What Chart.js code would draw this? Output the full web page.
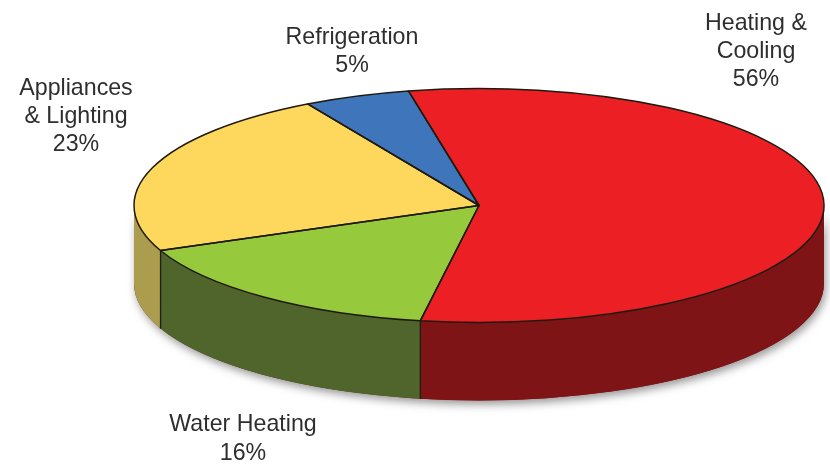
<!DOCTYPE html>
<html><head><meta charset="utf-8">
<style>html,body{margin:0;padding:0;background:#fff}#w{width:830px;height:464px}</style>
<script src="https://cdn.jsdelivr.net/npm/chart.js@4"></script></head>
<body><div id="w"><canvas id="c" width="830" height="464"></canvas></div>
<script>
const categories = ['Heating & Cooling','Water Heating','Appliances & Lighting','Refrigeration'];
const shares = [56,16,23,5];
const topColors = ['#ec2024','#97c93d','#fdd85d','#3f75bb'];
const wallColors = ['#7f1416','#4f652c','#ab9c4e','#2a4f80'];
const labelLines = [['Heating &','Cooling','56%'],['Water Heating','16%'],['Appliances','& Lighting','23%'],['Refrigeration','5%']];
const labelSpots = [[756,24,28],[243,425,29],[76,89,28],[352,38,28]];
const startRotation = -11.8;
const tilt = {cx:479,cy:205.5,rx:345,ry:117,depth:78};

const extrude = {
  id:'extrude',
  beforeDatasetsDraw(chart){
    const ctx=chart.ctx, els=chart.getDatasetMeta(0).data, t=tilt, e0=els[0];
    ctx.save();
    // soft cast shadow under the drum
    ctx.save();
    ctx.shadowColor='rgba(70,70,70,0.55)';ctx.shadowBlur=9;ctx.shadowOffsetX=2;ctx.shadowOffsetY=4;
    ctx.fillStyle='#7f1416';
    ctx.beginPath();
    ctx.ellipse(t.cx,t.cy+t.depth,t.rx,t.ry,0,0,Math.PI);
    ctx.ellipse(t.cx,t.cy,t.rx,t.ry,0,Math.PI,0,true);
    ctx.closePath();ctx.fill();
    ctx.restore();
    // walls of the front-facing part of each slice
    els.forEach((el,i)=>{
      const p=el.getProps(['startAngle','endAngle'],true);
      for(const k of [-2,0,2]){
        const a=Math.max(p.startAngle,k*Math.PI), b=Math.min(p.endAngle,(k+1)*Math.PI);
        if(b<=a)continue;
        ctx.beginPath();
        ctx.ellipse(t.cx,t.cy+t.depth,t.rx,t.ry,0,a,b);
        ctx.ellipse(t.cx,t.cy,t.rx,t.ry,0,b,a,true);
        ctx.closePath();
        ctx.fillStyle=wallColors[i];ctx.fill();
        ctx.strokeStyle='#1d1d12';ctx.lineWidth=1.2;
        // seams
        ctx.beginPath();
        [a,b].forEach(v=>{
          if(Math.abs(v%Math.PI)<1e-6)return;
          const x=t.cx+t.rx*Math.cos(v), y=t.cy+t.ry*Math.sin(v);
          ctx.moveTo(x,y);ctx.lineTo(x,y+t.depth);
        });
        ctx.stroke();
      }
    });
    // flatten the library's circular pie into the tilted top face
    ctx.translate(t.cx,t.cy);
    ctx.scale(t.rx/e0.outerRadius,t.ry/e0.outerRadius);
    ctx.translate(-e0.x,-e0.y);
  },
  afterDatasetsDraw(chart){
    const ctx=chart.ctx, els=chart.getDatasetMeta(0).data, t=tilt;
    ctx.restore();
    ctx.save();
    ctx.strokeStyle='#1f1a10';ctx.lineWidth=1.5;ctx.lineJoin='round';
    els.forEach(el=>{
      const p=el.getProps(['startAngle','endAngle'],true);
      ctx.beginPath();
      ctx.moveTo(t.cx,t.cy);
      ctx.ellipse(t.cx,t.cy,t.rx,t.ry,0,p.startAngle,p.endAngle);
      ctx.closePath();ctx.stroke();
    });
    ctx.fillStyle='#2e2e2e';ctx.textAlign='center';ctx.textBaseline='middle';
    ctx.font='23.2px "Liberation Sans", Arial, sans-serif';
    labelLines.forEach((lines,i)=>{
      const [x,y,lh]=labelSpots[i];
      lines.forEach((s,j)=>ctx.fillText(s,x,y+j*lh));
    });
    ctx.restore();
  }
};

new Chart(document.getElementById('c'),{
  type:'pie',
  data:{labels:categories,datasets:[{data:shares,backgroundColor:topColors,borderWidth:0,clip:false}]},
  options:{
    responsive:false,animation:false,rotation:startRotation,
    layout:{padding:0},
    plugins:{legend:{display:false},tooltip:{enabled:false}}
  },
  plugins:[extrude]
});
</script></body></html>
